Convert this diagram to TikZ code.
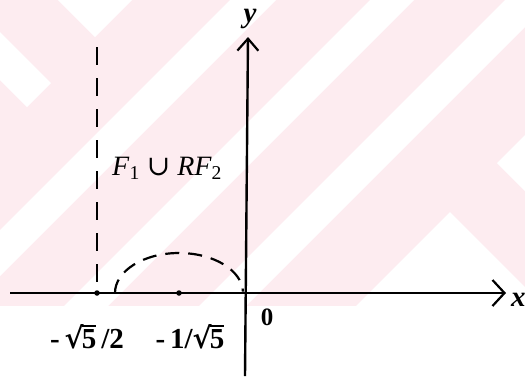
\documentclass[tikz,border=0pt]{standalone}
\usepackage{fontspec}
\setmainfont{Liberation Serif}
\newfontfamily\symf{DejaVu Serif}
\usetikzlibrary{arrows.meta}
\definecolor{wmpink}{RGB}{253,236,240}
\newcommand{\myroot}[1]{{\symf √}\kern-0.06em\setbox0\hbox{#1}\rlap{\rule[0.74em]{\wd0}{0.07em}}\box0}
\tikzset{
  axis/.style={line width=2.4pt},
  dashline/.style={line width=2.2pt, dash pattern=on 18pt off 13pt},
  arcline/.style={line width=2.2pt, dash pattern=on 14pt off 9pt},
  lbl/.style={font=\fontsize{29}{33}\selectfont\bfseries, inner sep=0pt},
  flbl/.style={font=\fontsize{28}{32}\selectfont, inner sep=0pt},
  small/.style={font=\fontsize{25}{29}\selectfont\bfseries, inner sep=0pt},
  dot/.style={circle, fill=black, inner sep=0pt, minimum size=5.5pt},
}
\begin{document}
\begin{tikzpicture}[x=1pt,y=-1pt]
\useasboundingbox (0,0) rectangle (525,376);
% watermark background
\begin{scope}
  \clip (0,0) rectangle (525,306);
  \fill[wmpink] (0,0) rectangle (525,306);
  \fill[white] (230,0) -- (276,0) -- (-124,400) -- (-170,400) -- cycle;
  \fill[white] (370,0) -- (414,0) -- (14,400) -- (-30,400) -- cycle;
  \fill[white] (505,0) -- (552,0) -- (152,400) -- (105,400) -- cycle;
  \fill[white] (-50,-18) -- (51,83) -- (27,107) -- (-50,30) -- cycle;
  \fill[white] (20,-38) -- (95,37) -- (170,-38) -- cycle;
  \fill[white] (450,212) -- (650,412) -- (250,412) -- cycle;
  \fill[white] (497,163) -- (620,40) -- (620,286) -- cycle;
\end{scope}
% coordinates
\coordinate (O) at (246,293);
\coordinate (xs) at (10,293);
\coordinate (xe) at (506,293);
\coordinate (ys) at (245,376);
\coordinate (ye) at (248,37);
\coordinate (dtop) at (97,47);
\coordinate (dbot) at (97,293);
\coordinate (arcL) at (115,293);
% axes
\draw[axis, -{Straight Barb[length=12pt,width=26pt,line width=2.2pt]}] (xs) -- (xe);
\draw[axis, -{Straight Barb[length=12pt,width=21pt,line width=2.2pt]}] (ys) -- (ye);
% dashed line and arc
\draw[dashline] (dtop) -- (dbot);
\draw[arcline] (arcL) arc[start angle=180, end angle=2, x radius=64pt, y radius=40pt];
% dots
\node[dot] (p1) at (dbot) {};
\node[dot] (p2) at (179,293) {};
% labels
\node[lbl, anchor=base] (ly) at (250,22) {\textit{y}};
\node[lbl, anchor=base west] (lx) at (511,306) {\textit{x}};
\node[flbl, anchor=base west] (lF) at (112,175) {\textit{F}\textsubscript{1} {\symf ∪} \textit{RF}\textsubscript{2}};
\node[lbl, anchor=base] (la) at (87,348) {-\,\myroot{5}\,/2};
\node[lbl, anchor=base] (lb) at (190,348) {-\,1/\myroot{5}};
\node[small, anchor=base] (l0) at (267,325) {0};
\end{tikzpicture}
\end{document}
